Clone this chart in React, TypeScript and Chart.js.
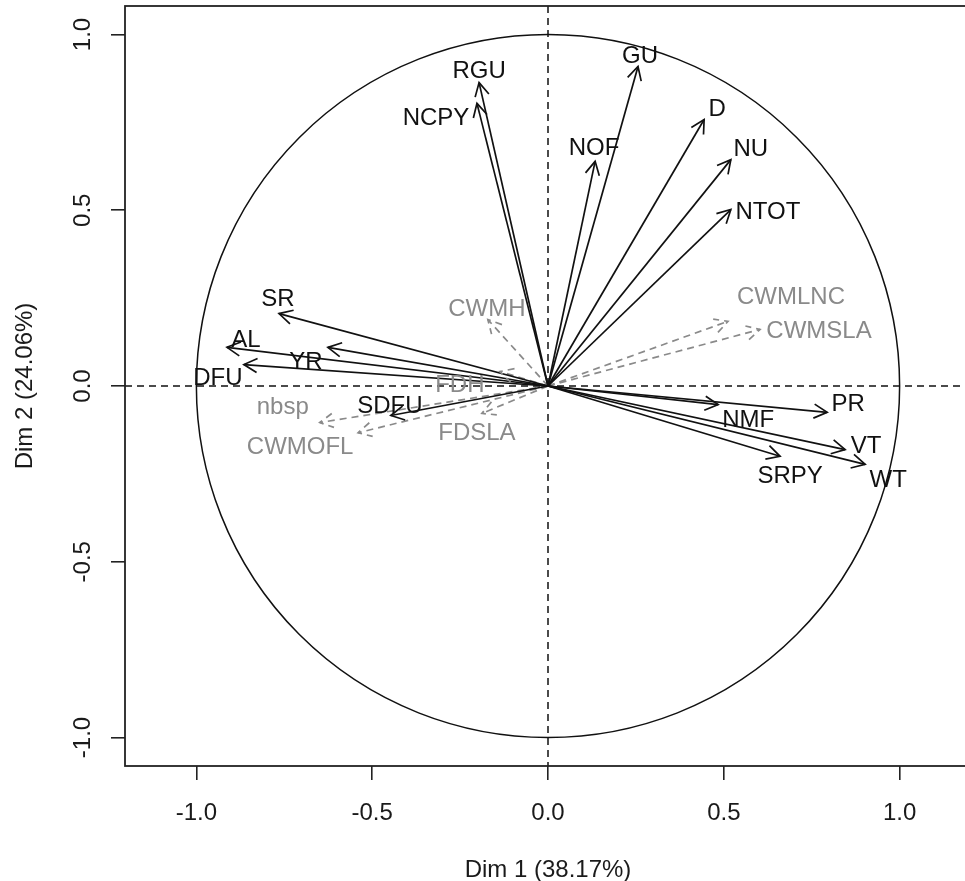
import { useEffect, useRef } from 'react';
import { Chart, registerables } from 'chart.js';

Chart.register(...registerables);

// ---- data ----
const activeNames = ['RGU', 'NCPY', 'GU', 'NOF', 'D', 'NU', 'NTOT', 'SR', 'AL', 'YR', 'DFU', 'SDFU', 'PR', 'NMF', 'VT', 'WT', 'SRPY'];
const activeDim1 = [-0.196, -0.202, 0.256, 0.134, 0.444, 0.52, 0.52, -0.765, -0.913, -0.626, -0.865, -0.447, 0.794, 0.484, 0.845, 0.902, 0.66];
const activeDim2 = [0.863, 0.804, 0.909, 0.639, 0.758, 0.644, 0.502, 0.206, 0.11, 0.11, 0.061, -0.084, -0.075, -0.053, -0.181, -0.223, -0.2];

const suppNames = ['CWMH', 'FDH', 'nbsp', 'CWMOFL', 'FDSLA', 'CWMLNC', 'CWMSLA'];
const suppDim1 = [-0.171, -0.137, -0.649, -0.54, -0.188, 0.512, 0.603];
const suppDim2 = [0.189, 0.041, -0.104, -0.133, -0.078, 0.184, 0.161];

const tickValues = [-1, -0.5, 0, 0.5, 1];
const tickLabels = ['-1.0', '-0.5', '0.0', '0.5', '1.0'];
const xTitle = 'Dim 1 (38.17%)';
const yTitle = 'Dim 2 (24.06%)';

// ---- label placement (pixel nudges from arrow tip to label centre) ----
const activeLabelNudge: [number, number][] = [
  [0, -13], [-41, 13], [2, -12], [-1, -15], [13, -12], [20, -12], [37, 1], [-1, -16], [19, -9],
  [-22, 13], [-26, 12], [-1, -11], [21, -10], [30, 14], [21, -5], [23, 14], [10, 18],
];
const suppLabelNudge: [number, number][] = [
  [-1, -12], [-40, 12], [-37, -17], [-58, 13], [-5, 18], [63, -26], [59, 0],
];

const FONT = '24px "Liberation Sans", Arial, Helvetica, sans-serif';
const BLACK = '#111111';
const GREY = '#8a8a8a';
const DASH = [7, 5];
const LW = 1.7;

function drawHead(ctx: CanvasRenderingContext2D, x0: number, y0: number, x1: number, y1: number) {
  const ang = Math.atan2(y1 - y0, x1 - x0);
  const len = 15;
  const spread = (28 * Math.PI) / 180;
  ctx.beginPath();
  ctx.moveTo(x1 - len * Math.cos(ang - spread), y1 - len * Math.sin(ang - spread));
  ctx.lineTo(x1, y1);
  ctx.lineTo(x1 - len * Math.cos(ang + spread), y1 - len * Math.sin(ang + spread));
  ctx.stroke();
}

const pcaPlugin = {
  id: 'pcaPlugin',
  beforeDatasetsDraw(chart: any) {
    const { ctx, chartArea: a, scales } = chart;
    const x = scales.x, y = scales.y;
    ctx.save();
    ctx.beginPath();
    ctx.rect(a.left, a.top, a.right - a.left, a.bottom - a.top);
    ctx.clip();
    const cx = x.getPixelForValue(0), cy = y.getPixelForValue(0);
    const rx = x.getPixelForValue(1) - cx, ry = cy - y.getPixelForValue(1);
    ctx.strokeStyle = BLACK;
    ctx.lineWidth = 1.5;
    ctx.beginPath();
    ctx.ellipse(cx, cy, rx, ry, 0, 0, Math.PI * 2);
    ctx.stroke();
    ctx.setLineDash(DASH);
    ctx.beginPath();
    ctx.moveTo(a.left, cy);
    ctx.lineTo(a.right, cy);
    ctx.moveTo(cx, a.top);
    ctx.lineTo(cx, a.bottom);
    ctx.stroke();
    ctx.restore();
  },
  afterDatasetsDraw(chart: any) {
    const { ctx, chartArea: a, scales } = chart;
    const x = scales.x, y = scales.y;
    const cx = x.getPixelForValue(0), cy = y.getPixelForValue(0);
    ctx.save();
    ctx.font = FONT;
    ctx.textAlign = 'center';
    ctx.textBaseline = 'alphabetic';
    // active arrows: heads + labels
    ctx.strokeStyle = BLACK;
    ctx.fillStyle = BLACK;
    ctx.lineWidth = LW;
    activeNames.forEach((n, i) => {
      const px = x.getPixelForValue(activeDim1[i]);
      const py = y.getPixelForValue(activeDim2[i]);
      drawHead(ctx, cx, cy, px, py);
      const [dx, dy] = activeLabelNudge[i];
      ctx.fillText(n, px + dx, py + dy + 8.6);
    });
    // supplementary arrows
    ctx.strokeStyle = GREY;
    ctx.fillStyle = GREY;
    suppNames.forEach((n, i) => {
      const px = x.getPixelForValue(suppDim1[i]);
      const py = y.getPixelForValue(suppDim2[i]);
      ctx.setLineDash(DASH);
      drawHead(ctx, cx, cy, px, py);
      ctx.setLineDash([]);
      const [dx, dy] = suppLabelNudge[i];
      ctx.fillText(n, px + dx, py + dy + 8.6);
    });
    ctx.setLineDash([]);
    // box
    ctx.strokeStyle = '#222222';
    ctx.lineWidth = 1.8;
    ctx.strokeRect(a.left, a.top, a.right - a.left, a.bottom - a.top);
    // tick labels
    ctx.fillStyle = '#1a1a1a';
    tickValues.forEach((v, i) => {
      ctx.fillText(tickLabels[i], x.getPixelForValue(v), 820);
    });
    tickValues.forEach((v, i) => {
      ctx.save();
      ctx.translate(90, y.getPixelForValue(v));
      ctx.rotate(-Math.PI / 2);
      ctx.fillText(tickLabels[i], 0, 0);
      ctx.restore();
    });
    // titles
    ctx.fillText(xTitle, (a.left + a.right) / 2, 877);
    ctx.save();
    ctx.translate(32, (a.top + a.bottom) / 2);
    ctx.rotate(-Math.PI / 2);
    ctx.fillText(yTitle, 0, 0);
    ctx.restore();
    ctx.restore();
  },
};

export default function App() {
  const ref = useRef<HTMLCanvasElement | null>(null);
  useEffect(() => {
    if (!ref.current) return;
    const datasets: any[] = [];
    activeNames.forEach((n, i) => {
      datasets.push({
        label: n,
        data: [{ x: 0, y: 0 }, { x: activeDim1[i], y: activeDim2[i] }],
        showLine: true,
        borderColor: BLACK,
        borderWidth: LW,
        pointRadius: 0,
        pointHoverRadius: 0,
      });
    });
    suppNames.forEach((n, i) => {
      datasets.push({
        label: n,
        data: [{ x: 0, y: 0 }, { x: suppDim1[i], y: suppDim2[i] }],
        showLine: true,
        borderColor: GREY,
        borderWidth: LW,
        borderDash: DASH,
        pointRadius: 0,
        pointHoverRadius: 0,
      });
    });
    const axisCommon = {
      type: 'linear',
      grid: { drawOnChartArea: false, drawTicks: true, tickLength: 14, color: '#222222', lineWidth: 1.6 },
      border: { display: false },
      ticks: { display: false },
      afterBuildTicks: (s: any) => {
        s.ticks = tickValues.map((v) => ({ value: v }));
      },
    };
    const chart = new Chart(ref.current, {
      type: 'scatter',
      data: { datasets },
      options: {
        responsive: false,
        animation: false,
        devicePixelRatio: 1,
        layout: { padding: { top: 6, right: 14, left: 0, bottom: 0 } },
        plugins: { legend: { display: false }, tooltip: { enabled: false } },
        events: [],
        scales: {
          x: { ...axisCommon, position: 'bottom', min: -1.203, max: 1.203, afterFit: (s: any) => { s.height = 115; } },
          y: { ...axisCommon, position: 'left', min: -1.081, max: 1.081, afterFit: (s: any) => { s.width = 125; } },
        },
      } as any,
      plugins: [pcaPlugin],
    });
    return () => chart.destroy();
  }, []);
  return (
    <div style={{ position: 'fixed', left: 0, top: 0, width: 965, height: 881, overflow: 'hidden', background: '#ffffff' }}>
      <canvas ref={ref} width={985} height={881} style={{ display: 'block', width: 985, height: 881 }} />
    </div>
  );
}
